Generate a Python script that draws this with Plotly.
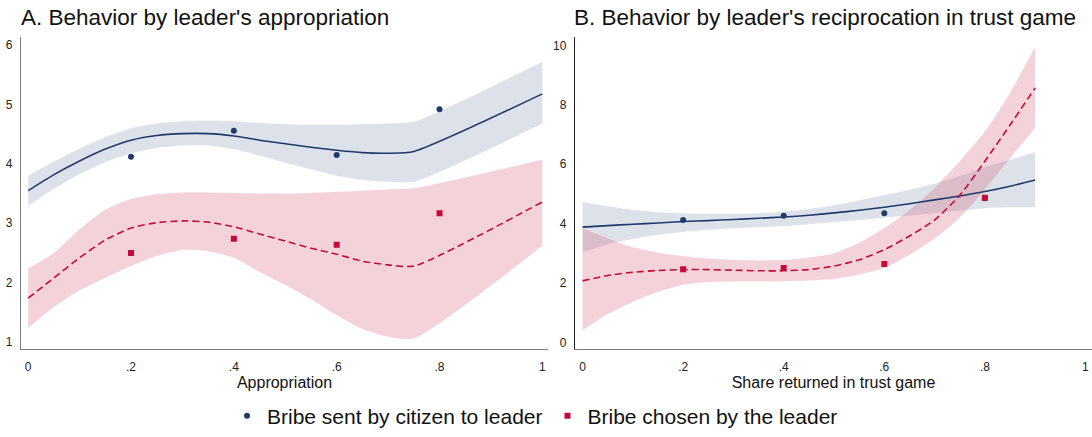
import plotly.graph_objects as go

# ---- panel A: behaviour by leader's appropriation ----
fit_x_a = [0, .05, .1, .15, .2, .25, .3, .35, .4, .45, .5, .55, .6, .65, .7, .75, 1.0]
cit_fit_a = [3.55, 3.82, 4.05, 4.25, 4.40, 4.48, 4.51, 4.51, 4.47, 4.40, 4.34, 4.28, 4.23, 4.19, 4.18, 4.21, 5.18]
cit_hi_a = [3.80, 4.04, 4.26, 4.45, 4.60, 4.68, 4.72, 4.73, 4.72, 4.69, 4.67, 4.66, 4.66, 4.67, 4.68, 4.71, 5.72]
cit_lo_a = [3.29, 3.58, 3.83, 4.03, 4.18, 4.27, 4.31, 4.31, 4.25, 4.14, 4.02, 3.91, 3.80, 3.73, 3.70, 3.70, 4.68]
lead_fit_a = [1.74, 2.08, 2.42, 2.72, 2.92, 3.01, 3.04, 3.02, 2.94, 2.82, 2.70, 2.58, 2.48, 2.36, 2.30, 2.28, 3.36]
lead_hi_a = [2.24, 2.50, 2.90, 3.23, 3.41, 3.49, 3.52, 3.52, 3.51, 3.50, 3.50, 3.51, 3.53, 3.55, 3.57, 3.59, 4.07]
lead_lo_a = [1.24, 1.59, 1.87, 2.08, 2.28, 2.45, 2.55, 2.53, 2.42, 2.18, 1.96, 1.72, 1.45, 1.22, 1.09, 1.06, 2.62]

# ---- panel B: behaviour by leader's reciprocation ----
fit_x_b = [0, .05, .1, .15, .2, .25, .3, .35, .4, .45, .5, .55, .6, .65, .7, .75, .8, .85, .9]
cit_fit_b = [3.88, 3.93, 3.98, 4.02, 4.07, 4.10, 4.14, 4.18, 4.22, 4.28, 4.36, 4.45, 4.55, 4.67, 4.80, 4.93, 5.08, 5.26, 5.47]
cit_hi_b = [4.73, 4.58, 4.46, 4.38, 4.34, 4.33, 4.33, 4.35, 4.40, 4.49, 4.62, 4.78, 4.96, 5.14, 5.34, 5.60, 5.90, 6.15, 6.40]
cit_lo_b = [3.03, 3.30, 3.48, 3.62, 3.72, 3.79, 3.84, 3.88, 3.92, 3.98, 4.05, 4.12, 4.20, 4.27, 4.35, 4.44, 4.52, 4.55, 4.55]
lead_fit_b = [2.07, 2.25, 2.36, 2.42, 2.45, 2.45, 2.43, 2.41, 2.41, 2.45, 2.57, 2.78, 3.12, 3.58, 4.12, 4.95, 6.10, 7.32, 8.57]
lead_hi_b = [3.84, 3.50, 3.20, 3.02, 2.90, 2.82, 2.77, 2.76, 2.77, 2.85, 3.00, 3.35, 3.85, 4.45, 5.20, 6.10, 7.10, 8.40, 9.96]
lead_lo_b = [0.40, 0.95, 1.36, 1.70, 1.94, 2.03, 2.05, 2.05, 2.06, 2.08, 2.14, 2.28, 2.50, 2.95, 3.50, 4.20, 5.15, 6.20, 7.23]

# group means
pt_x = [.2, .4, .6, .8]
cit_pts_a = [4.12, 4.56, 4.15, 4.92]
lead_pts_a = [2.50, 2.74, 2.64, 3.17]
cit_pts_b = [4.12, 4.26, 4.35, 4.85]
lead_pts_b = [2.46, 2.50, 2.64, 4.87]

tick_vals = [0, .2, .4, .6, .8, 1]
tick_text = ["0", ".2", ".4", ".6", ".8", "1"]

NAVY = "#1f3a6b"
RED = "#c40a3a"
NAVY_BAND = "rgba(143,160,184,0.30)"
RED_BAND = "rgba(215,90,115,0.27)"
FONT = "Liberation Sans, Arial, sans-serif"

W, H = 1092, 437

fig = go.Figure()


def add_panel(xa, ya, fx, c_fit, c_lo, c_hi, l_fit, l_lo, l_hi, c_pts, l_pts, legend):
    band = dict(shape="spline", smoothing=0.6, width=0)
    fig.add_trace(go.Scatter(x=fx, y=c_lo, mode="lines", line=band, showlegend=False,
                             hoverinfo="skip", xaxis=xa, yaxis=ya))
    fig.add_trace(go.Scatter(x=fx, y=c_hi, mode="lines", line=band, fill="tonexty",
                             fillcolor=NAVY_BAND, showlegend=False, hoverinfo="skip",
                             xaxis=xa, yaxis=ya))
    fig.add_trace(go.Scatter(x=fx, y=l_lo, mode="lines", line=band, showlegend=False,
                             hoverinfo="skip", xaxis=xa, yaxis=ya))
    fig.add_trace(go.Scatter(x=fx, y=l_hi, mode="lines", line=band, fill="tonexty",
                             fillcolor=RED_BAND, showlegend=False, hoverinfo="skip",
                             xaxis=xa, yaxis=ya))
    fig.add_trace(go.Scatter(x=fx, y=c_fit, mode="lines", showlegend=False,
                             line=dict(color=NAVY, width=1.6, shape="spline", smoothing=0.6),
                             xaxis=xa, yaxis=ya))
    fig.add_trace(go.Scatter(x=fx, y=l_fit, mode="lines", showlegend=False,
                             line=dict(color=RED, width=1.6, dash="7px,4px",
                                       shape="spline", smoothing=0.6),
                             xaxis=xa, yaxis=ya))
    fig.add_trace(go.Scatter(x=pt_x, y=c_pts, mode="markers", name="Bribe sent by citizen to leader",
                             marker=dict(color=NAVY, size=6, symbol="circle"),
                             showlegend=legend, xaxis=xa, yaxis=ya))
    fig.add_trace(go.Scatter(x=pt_x, y=l_pts, mode="markers", name="Bribe chosen by the leader",
                             marker=dict(color=RED, size=6, symbol="square"),
                             showlegend=legend, xaxis=xa, yaxis=ya))


add_panel("x", "y", fit_x_a, cit_fit_a, cit_lo_a, cit_hi_a,
          lead_fit_a, lead_lo_a, lead_hi_a, cit_pts_a, lead_pts_a, True)
add_panel("x2", "y2", fit_x_b, cit_fit_b, cit_lo_b, cit_hi_b,
          lead_fit_b, lead_lo_b, lead_hi_b, cit_pts_b, lead_pts_b, False)

ax_common = dict(showgrid=False, zeroline=False, showline=True, linewidth=1.3,
                 ticks="", tickfont=dict(size=12, color="#222"))
y_dom = [(H - 354) / H, (H - 38) / H]

fig.update_layout(
    width=W, height=H,
    margin=dict(l=0, r=0, t=0, b=0),
    paper_bgcolor="white", plot_bgcolor="white",
    font=dict(family=FONT, color="#111"),
    xaxis=dict(domain=[21 / W, 548 / W], range=[-0.014, 1.011], tickvals=tick_vals,
               ticktext=tick_text, linecolor="#7a7a7a", ticklabelstandoff=6,
               title=dict(text="Appropriation", font=dict(size=16), standoff=4), **ax_common),
    yaxis=dict(domain=y_dom, range=[0.88, 6.13], tickvals=[1, 2, 3, 4, 5, 6],
               linecolor="#7a7a7a", ticklabelstandoff=5, **ax_common),
    xaxis2=dict(domain=[575 / W, 1.0], range=[-0.015, 1.013], tickvals=tick_vals,
                ticktext=tick_text, linecolor="#7a7a7a", anchor="y2", ticklabelstandoff=6,
                title=dict(text="Share returned in trust game", font=dict(size=16), standoff=4),
                **ax_common),
    yaxis2=dict(domain=y_dom, range=[-0.23, 10.27], tickvals=[0, 2, 4, 6, 8, 10],
                linecolor="#222", anchor="x2", ticklabelstandoff=5, **ax_common),
    legend=dict(orientation="h", traceorder="normal", x=227 / W, xanchor="left",
                y=(H - 422) / H, yanchor="middle",
                font=dict(size=21, color="#111"), bgcolor="rgba(0,0,0,0)"),
    annotations=[
        dict(text="A. Behavior by leader's appropriation", x=19 / W, y=1 - 17.5 / H,
             xref="paper", yref="paper", xanchor="left", yanchor="middle",
             showarrow=False, font=dict(size=22.5, color="#111")),
        dict(text="B. Behavior by leader's reciprocation in trust game", x=572 / W,
             y=1 - 17.5 / H, xref="paper", yref="paper", xanchor="left", yanchor="middle",
             showarrow=False, font=dict(size=22.5, color="#111")),
    ],
)

# drop the browser's default 8px body margin so the figure fills the window
fig.write_html("out.html", config={"displayModeBar": False},
               post_script="document.body.style.margin='0';")
